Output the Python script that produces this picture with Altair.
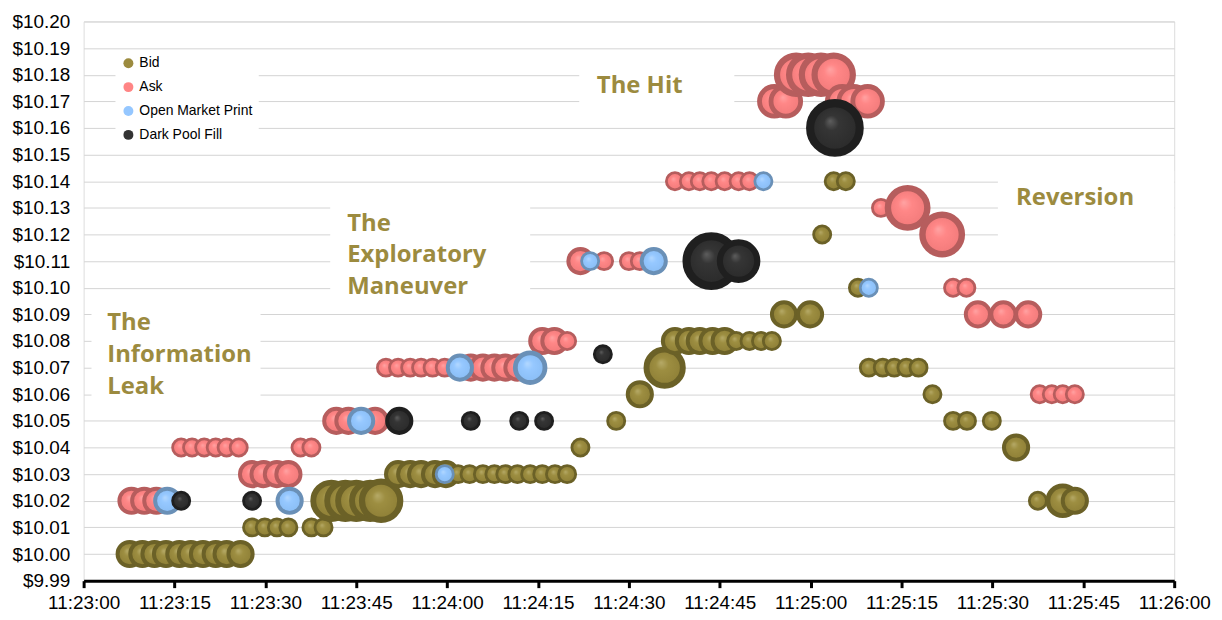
import altair as alt
import pandas as pd

# ---------------- data (seconds after 11:23:00, price, relative volume) ----------------
series_names = ["Bid", "Ask", "Open Market Print", "Dark Pool Fill"]
legend_colors = ["#9c8b3f", "#ff8585", "#95c7ff", "#333333"]

bid_t = [7.6, 9.7, 11.7, 13.6, 15.8, 17.7, 19.7, 21.8, 23.6, 25.9,
         27.8, 29.9, 31.9, 33.8, 37.6, 39.6,
         40.9, 43.2, 45.0, 47.3, 49.1,
         51.9, 53.9, 55.7, 58.0, 59.8, 61.8, 63.7, 65.9, 67.8, 69.6, 71.6, 73.7, 75.7, 77.8, 79.8,
         82.0, 87.9, 91.8, 95.9,
         97.6, 99.9, 101.7, 103.8, 105.8, 107.7, 109.9, 111.8, 113.6,
         115.6, 119.9, 121.9, 123.8, 125.8, 127.8,
         129.6, 131.9, 133.8, 135.8, 137.8,
         140.1, 143.5, 145.8, 149.9, 153.9, 157.5, 161.6, 163.6]
bid_p = [10.00, 10.00, 10.00, 10.00, 10.00, 10.00, 10.00, 10.00, 10.00, 10.00,
         10.01, 10.01, 10.01, 10.01, 10.01, 10.01,
         10.02, 10.02, 10.02, 10.02, 10.02,
         10.03, 10.03, 10.03, 10.03, 10.03, 10.03, 10.03, 10.03, 10.03, 10.03, 10.03, 10.03, 10.03, 10.03, 10.03,
         10.04, 10.05, 10.06, 10.07,
         10.08, 10.08, 10.08, 10.08, 10.08, 10.08, 10.08, 10.08, 10.08,
         10.09, 10.09, 10.12, 10.14, 10.14, 10.10,
         10.07, 10.07, 10.07, 10.07, 10.07,
         10.06, 10.05, 10.05, 10.05, 10.04, 10.02, 10.02, 10.02]
bid_v = [2, 2, 2, 2, 2, 2, 2, 2, 2, 2,
         1, 1, 1, 1, 1, 1,
         4.5, 4.5, 4.5, 4.5, 5,
         2, 2, 2, 2, 2, 1, 1, 1, 1, 1, 1, 1, 1, 1, 1,
         1, 1, 2, 4.5,
         2, 2, 2, 2, 2, 1, 1, 1, 1,
         2, 2, 1, 1, 1, 1,
         1, 1, 1, 1, 1,
         1, 1, 1, 1, 2, 1, 3, 2]

ask_t = [7.9, 10.0, 12.0,
         16.1, 17.9, 19.9, 21.8, 23.6, 25.6,
         27.8, 29.7, 31.9, 33.8,
         35.8, 37.6,
         41.7, 43.7, 48.1,
         49.9, 51.9, 53.9, 55.7, 57.6, 59.6, 63.9, 65.9, 67.8, 69.6, 71.6,
         75.7, 77.7, 79.8,
         82.0, 85.9, 90.0, 91.8,
         97.6, 99.9, 101.7, 103.6, 105.8, 108.1, 109.9,
         114.0, 115.9,
         117.6, 119.6, 121.7, 123.8,
         125.2, 127.1, 129.4,
         131.6, 136.0, 141.7,
         143.5, 145.7, 147.6, 151.8, 155.9,
         157.8, 159.8, 161.6, 163.6]
ask_p = [10.02, 10.02, 10.02,
         10.04, 10.04, 10.04, 10.04, 10.04, 10.04,
         10.03, 10.03, 10.03, 10.03,
         10.04, 10.04,
         10.05, 10.05, 10.05,
         10.07, 10.07, 10.07, 10.07, 10.07, 10.07, 10.07, 10.07, 10.07, 10.07, 10.07,
         10.08, 10.08, 10.08,
         10.11, 10.11, 10.11, 10.11,
         10.14, 10.14, 10.14, 10.14, 10.14, 10.14, 10.14,
         10.17, 10.17,
         10.18, 10.18, 10.18, 10.18,
         10.17, 10.17, 10.17,
         10.13, 10.13, 10.12,
         10.10, 10.10, 10.09, 10.09, 10.09,
         10.06, 10.06, 10.06, 10.06]
ask_v = [2, 2, 2,
         1, 1, 1, 1, 1, 1,
         2, 2, 2, 2,
         1, 1,
         2, 2, 2,
         1, 1, 1, 1, 1, 1, 2, 2, 2, 2, 2,
         2, 2, 1,
         2, 1, 1, 1,
         1, 1, 1, 1, 1, 1, 1,
         3, 3,
         5, 5, 5, 5,
         3, 3, 3,
         1, 5.3, 5.3,
         1, 1, 2, 2, 2,
         1, 1, 1, 1]

om_t = [13.8, 34.0, 45.8, 59.6, 62.1, 73.7, 83.6, 94.1, 112.2, 129.6]
om_p = [10.02, 10.02, 10.05, 10.03, 10.07, 10.07, 10.11, 10.11, 10.14, 10.10]
om_v = [2, 2, 2, 1, 2, 3, 1, 2, 1, 1]

dp_t = [16.1, 27.8, 52.1, 63.9, 71.9, 76.0, 85.7, 103.6, 108.1, 124.0]
dp_p = [10.02, 10.02, 10.05, 10.05, 10.05, 10.05, 10.075, 10.11, 10.11, 10.16]
dp_v = [1, 1, 2, 1, 1, 1, 1, 8.4, 4.8, 8.4]

x_ticks = [0, 15, 30, 45, 60, 75, 90, 105, 120, 135, 150, 165, 180]
y_ticks = [9.99, 10.00, 10.01, 10.02, 10.03, 10.04, 10.05, 10.06, 10.07, 10.08, 10.09,
           10.10, 10.11, 10.12, 10.13, 10.14, 10.15, 10.16, 10.17, 10.18, 10.19, 10.20]

ann_labels = ["The\nInformation\nLeak", "The\nExploratory\nManeuver", "The Hit", "Reversion"]
ann_t = [3.9, 43.5, 84.7, 153.9]
ann_p = [10.0867, 10.1241, 10.1757, 10.1338]
box_t1 = [1.3, 40.7, 81.8, 150.9]
box_t2 = [29.2, 73.7, 107.4, 180.0]
box_p1 = [10.0561, 10.0961, 10.1656, 10.1140]
box_p2 = [10.0953, 10.1330, 10.1843, 10.1439]

# ---------------- chart ----------------
AXIS_FONT = "Liberation Sans"
X_SCALE = alt.Scale(domain=[0, 180], nice=False, zero=False)
Y_SCALE = alt.Scale(domain=[9.99, 10.20], nice=False, zero=False)

X_AXIS = alt.Axis(values=x_ticks, grid=False,
                  labelExpr="timeFormat(datetime(2024, 0, 1, 11, 23, datum.value), '%H:%M:%S')",
                  domainColor="black", domainWidth=3, tickColor="black", tickWidth=3,
                  tickSize=7, labelPadding=6, labelFontSize=19, labelFont=AXIS_FONT,
                  labelColor="black", labelOverlap=False, labelBound=False, labelFlush=False)
Y_AXIS = alt.Axis(values=y_ticks, format="$.2f", domain=False, ticks=False,
                  labelPadding=14, labelFontSize=19, labelFont=AXIS_FONT,
                  labelColor="black", gridColor="#d4d4d4", gridWidth=1,
                  labelOverlap=False, labelBound=False, labelFlush=False)


def xenc(field="t"):
    return alt.X(f"{field}:Q", title=None, scale=X_SCALE, axis=X_AXIS)


def yenc(field="p"):
    return alt.Y(f"{field}:Q", title=None, scale=Y_SCALE, axis=Y_AXIS)


size_scale = alt.Scale(domain=[0, 10], range=[0, 2960], zero=True)


def bubbles(name, t, p, v, stops, rim):
    df = pd.DataFrame({"series": name, "t": t, "p": p, "v": v})
    grad = alt.RadialGradient(
        gradient="radial",
        stops=[alt.GradientStop(offset=o, color=c) for o, c in stops],
        x1=0.4, y1=0.36, r1=0.0, x2=0.5, y2=0.5, r2=0.5)
    return (alt.Chart(df)
            .transform_calculate(sw="2.8*sqrt(datum.v)")
            .mark_circle(fill=grad, stroke=rim, opacity=1, fillOpacity=1, strokeOpacity=1)
            .encode(x=xenc(), y=yenc(),
                    size=alt.Size("v:Q", scale=size_scale, legend=None),
                    strokeWidth=alt.StrokeWidth("sw:Q", scale=None, legend=None)))


boxes = (alt.Chart(pd.DataFrame({"t1": box_t1, "t2": box_t2, "p1": box_p1, "p2": box_p2}))
         .mark_rect(fill="white")
         .encode(x=xenc("t1"), x2="t2:Q", y=yenc("p1"), y2="p2:Q"))

bid = bubbles("Bid", bid_t, bid_p, bid_v,
              [(0, "#b6aa68"), (0.35, "#9d8e41"), (1, "#8e7f36")], "#6b6127")
ask = bubbles("Ask", ask_t, ask_p, ask_v,
              [(0, "#ffa3a3"), (0.35, "#ff8787"), (1, "#f27a7a")], "#b65d5d")
om = bubbles("Open Market Print", om_t, om_p, om_v,
             [(0, "#b3d8ff"), (0.35, "#96c8ff"), (1, "#89bdf5")], "#6a90b7")
dp = bubbles("Dark Pool Fill", dp_t, dp_p, dp_v,
             [(0, "#5e5e5e"), (0.3, "#353535"), (1, "#2a2a2a")], "#1f1f1f")

annotations = (alt.Chart(pd.DataFrame({"label": ann_labels, "t": ann_t, "p": ann_p}))
               .mark_text(align="left", baseline="middle", lineBreak="\n", lineHeight=32,
                          font="Open Sans", fontSize=24, fontWeight="bold", color="#9c8b3f")
               .encode(x=xenc(), y=yenc(), text="label:N"))

legend_layer = (alt.Chart(pd.DataFrame({"series": series_names}))
                .mark_circle(opacity=1, clip=True)
                .encode(x=alt.value(-300), y=alt.value(-300),
                        color=alt.Color("series:N",
                                        scale=alt.Scale(domain=series_names, range=legend_colors),
                                        sort=series_names,
                                        legend=alt.Legend(title=None, orient="none", legendX=32, legendY=29,
                                                          fillColor="white", padding=6,
                                                          symbolType="circle", symbolSize=100,
                                                          symbolStrokeWidth=0, labelFont=AXIS_FONT,
                                                          labelFontSize=14, labelColor="black",
                                                          rowPadding=10, labelOffset=4,
                                                          direction="vertical"))))

chart = (alt.layer(boxes, bid, ask, om, dp, annotations, legend_layer)
         .properties(width=1096, height=562,
                     padding={"left": 76, "top": 12, "right": 40, "bottom": 36},
                     autosize=alt.AutoSizeParams(type="none"))
         .configure_view(stroke=None)
         .configure(background="white"))

chart.save("out.html", embed_options={"renderer": "svg", "actions": False})
